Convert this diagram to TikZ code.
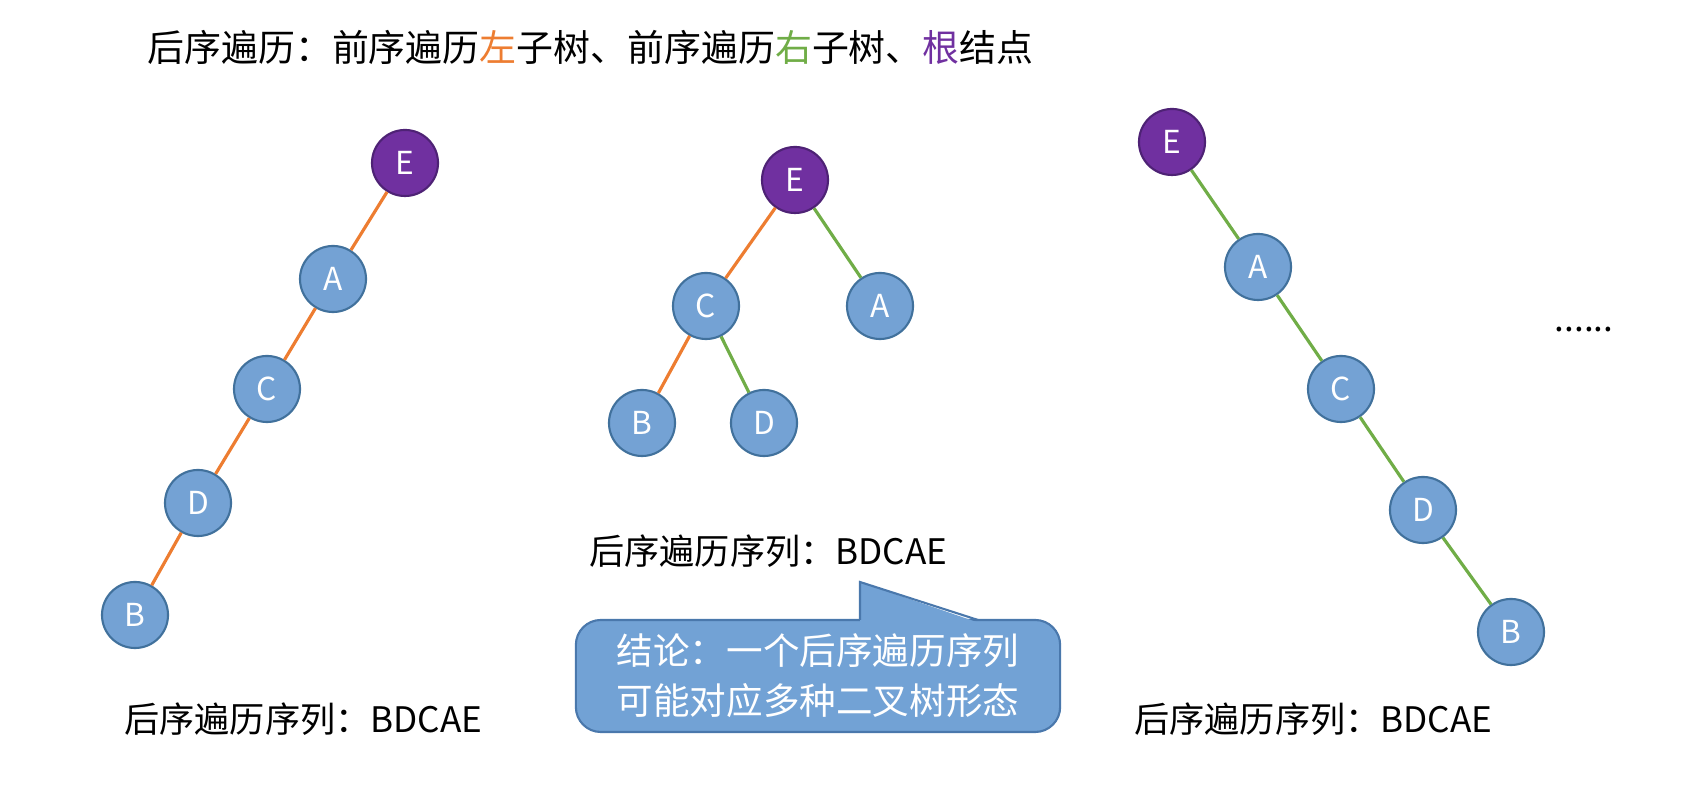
\documentclass[tikz,border=0pt]{standalone}
\usepackage{fontspec}
\setmainfont{Noto Sans CJK SC}
\usepackage{xcolor,tikz}
\usetikzlibrary{positioning}
\definecolor{nodeblue}{HTML}{74A2D4}
\definecolor{rim}{HTML}{41719C}
\definecolor{root}{HTML}{7030A0}
\definecolor{rootrim}{HTML}{4E2275}
\definecolor{lft}{HTML}{ED7D31}
\definecolor{rgt}{HTML}{70AD47}
\definecolor{note}{HTML}{72A2D5}
\definecolor{noterim}{HTML}{4A78AC}
\tikzset{tnode/.style={circle,draw=rim,fill=nodeblue,line width=0.6pt,minimum size=6.6mm,
  inner sep=0pt,text=white,font=\fontsize{9}{10}\selectfont},
  troot/.style={tnode,draw=rootrim,fill=root},
  ledge/.style={draw=lft,line width=0.9pt},
  redge/.style={draw=rgt,line width=0.9pt},
  seq/.style={anchor=west,font=\fontsize{10}{12}\selectfont}}

\begin{document}
\begin{tikzpicture}[x=0.01cm,y=-0.01cm]
\useasboundingbox (0,0) rectangle (1708,786);
\node[anchor=west,font=\fontsize{10.5}{12}\selectfont] (title) at (135,47) {后序遍历：前序遍历\textcolor{lft}{左}子树、前序遍历\textcolor{rgt}{右}子树、\textcolor{root}{根}结点};
% left tree
\node[troot] (e1) at (405,163) {E};
\node[tnode] (a1) at (333,279) {A};
\node[tnode] (c1) at (267,389) {C};
\node[tnode] (d1) at (198,503) {D};
\node[tnode] (b1) at (135,615) {B};
\draw[ledge] (e1) -- (a1);
\draw[ledge] (a1) -- (c1);
\draw[ledge] (c1) -- (d1);
\draw[ledge] (d1) -- (b1);
\node[seq] (s1) at (112,719) {后序遍历序列：BDCAE};
% middle tree
\node[troot] (e2) at (795,180) {E};
\node[tnode] (c2) at (706,306) {C};
\node[tnode] (a2) at (880,306) {A};
\node[tnode] (b2) at (642,423) {B};
\node[tnode] (d2) at (764,423) {D};
\draw[ledge] (e2) -- (c2);
\draw[redge] (e2) -- (a2);
\draw[ledge] (c2) -- (b2);
\draw[redge] (c2) -- (d2);
\node[seq] (s2) at (577,551) {后序遍历序列：BDCAE};
% right tree
\node[troot] (e3) at (1172,142) {E};
\node[tnode] (a3) at (1258,267) {A};
\node[tnode] (c3) at (1341,389) {C};
\node[tnode] (d3) at (1423,510) {D};
\node[tnode] (b3) at (1511,632) {B};
\draw[redge] (e3) -- (a3);
\draw[redge] (a3) -- (c3);
\draw[redge] (c3) -- (d3);
\draw[redge] (d3) -- (b3);
\node[seq] (s3) at (1122,719) {后序遍历序列：BDCAE};
\node[font=\fontsize{10}{12}\selectfont] (more) at (1584,330) {......};
% conclusion callout
\node[draw=noterim,fill=note,line width=0.6pt,rounded corners=2.5mm,minimum width=48.4mm,
  minimum height=11.2mm,text=white,align=center,font=\fontsize{10.4}{14.2}\selectfont] (note) at (818,676)
  {结论：一个后序遍历序列\\可能对应多种二叉树形态};
\fill[note] (860,622.5) -- (860,582) -- (978,622.5) -- cycle;
\draw[noterim,line width=0.6pt] (860,620) -- (860,582) -- (978,620);
\end{tikzpicture}
\end{document}
